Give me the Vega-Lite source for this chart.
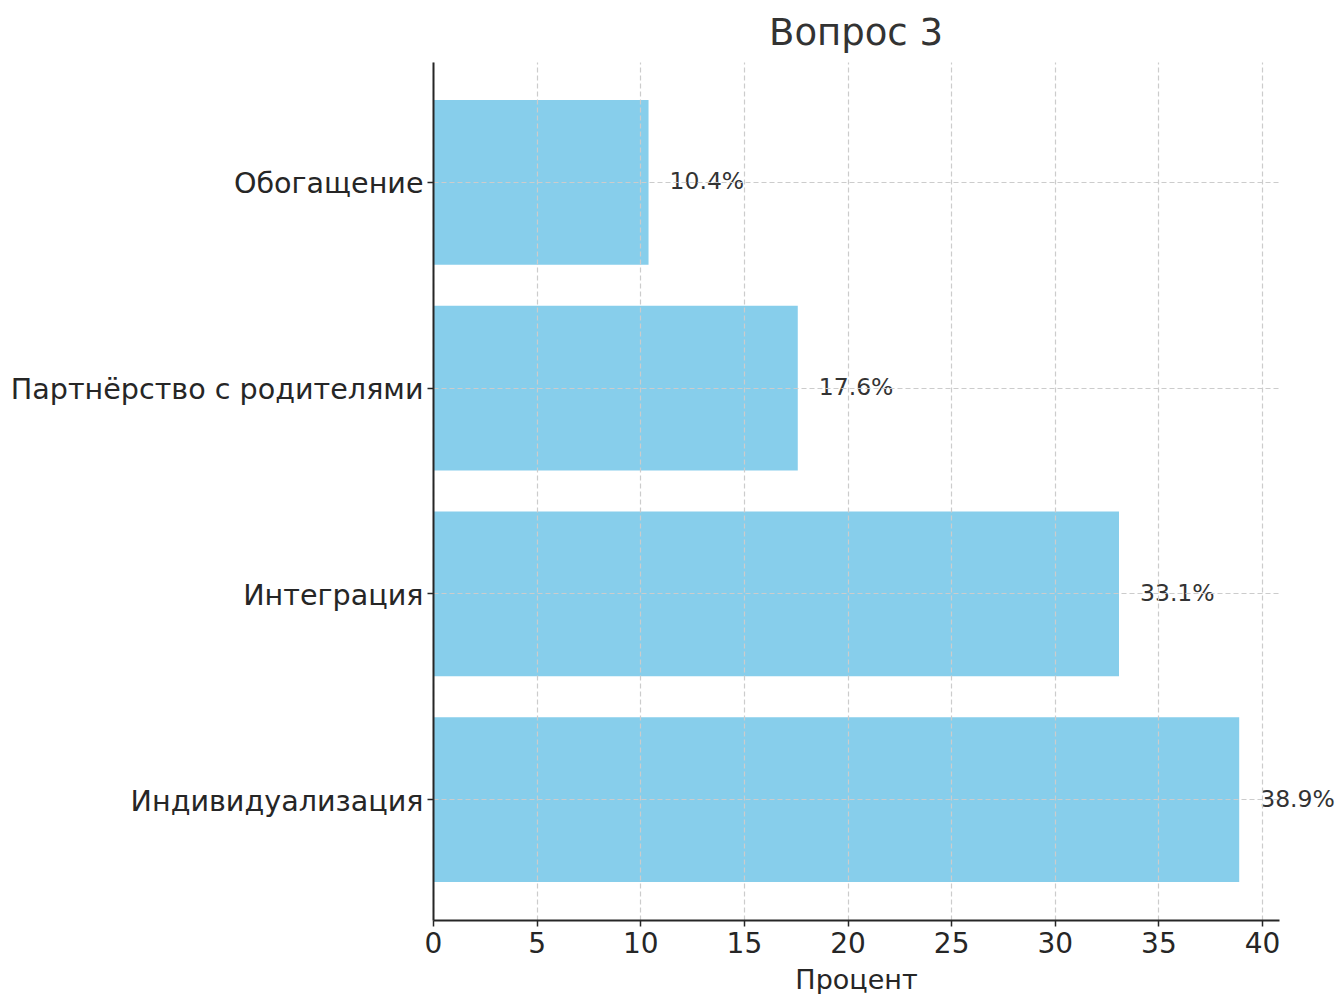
{
  "$schema": "https://vega.github.io/schema/vega-lite/v6.json",
  "autosize": "none",
  "width": 846,
  "height": 858,
  "padding": {"left": 433, "top": 62, "right": 58, "bottom": 74},
  "background": "white",
  "config": {
    "view": {"stroke": null},
    "font": "DejaVu Sans"
  },
  "title": {
    "text": "Вопрос 3",
    "fontSize": 37,
    "font": "DejaVu Sans",
    "fontWeight": "normal",
    "color": "#333333",
    "anchor": "middle",
    "offset": 9
  },
  "data": {
    "values": [
      {"category": "Индивидуализация", "value": 38.9, "label": "38.9%"},
      {"category": "Интеграция", "value": 33.1, "label": "33.1%"},
      {"category": "Партнёрство с родителями", "value": 17.6, "label": "17.6%"},
      {"category": "Обогащение", "value": 10.4, "label": "10.4%"}
    ]
  },
  "encoding": {
    "y": {
      "field": "category",
      "type": "nominal",
      "sort": ["Обогащение", "Партнёрство с родителями", "Интеграция", "Индивидуализация"],
      "scale": {"paddingInner": 0.2, "paddingOuter": 0.185},
      "axis": {
        "title": null,
        "labelFontSize": 28.6,
        "labelColor": "#262626",
        "labelPadding": 4,
        "labelOffset": 2,
        "tickSize": 6,
        "tickColor": "#262626",
        "tickWidth": 1.5,
        "domainColor": "#262626",
        "domainWidth": 2,
        "grid": true,
        "gridColor": "#cccccc",
        "gridDash": [5, 3],
        "gridWidth": 1.2,
        "bandPosition": 0.5,
        "zindex": 1,
        "labelLimit": 600
      }
    }
  },
  "layer": [
    {
      "mark": {"type": "bar", "color": "#87CEEB"},
      "encoding": {
        "x": {
          "field": "value",
          "type": "quantitative",
          "scale": {"domain": [0, 40.82], "nice": false, "zero": true},
          "axis": {
            "title": "Процент",
            "titleFontSize": 27,
            "titleFontWeight": "normal",
            "titleColor": "#262626",
            "titlePadding": 9,
            "values": [0, 5, 10, 15, 20, 25, 30, 35, 40],
            "labelFontSize": 28,
            "labelFlush": false,
            "labelColor": "#262626",
            "labelPadding": 4,
            "tickSize": 6,
            "tickColor": "#262626",
            "tickWidth": 1.5,
            "domainColor": "#262626",
            "domainWidth": 2,
            "grid": true,
            "gridColor": "#cccccc",
            "gridDash": [5, 3],
            "gridWidth": 1.2,
            "zindex": 1
          }
        }
      }
    },
    {
      "mark": {
        "type": "text",
        "align": "left",
        "baseline": "middle",
        "dx": 21,
        "fontSize": 23.5,
        "color": "#333333",
        "font": "DejaVu Sans",
        "zindex": 2
      },
      "encoding": {
        "x": {"field": "value", "type": "quantitative"},
        "text": {"field": "label", "type": "nominal"}
      }
    }
  ]
}
